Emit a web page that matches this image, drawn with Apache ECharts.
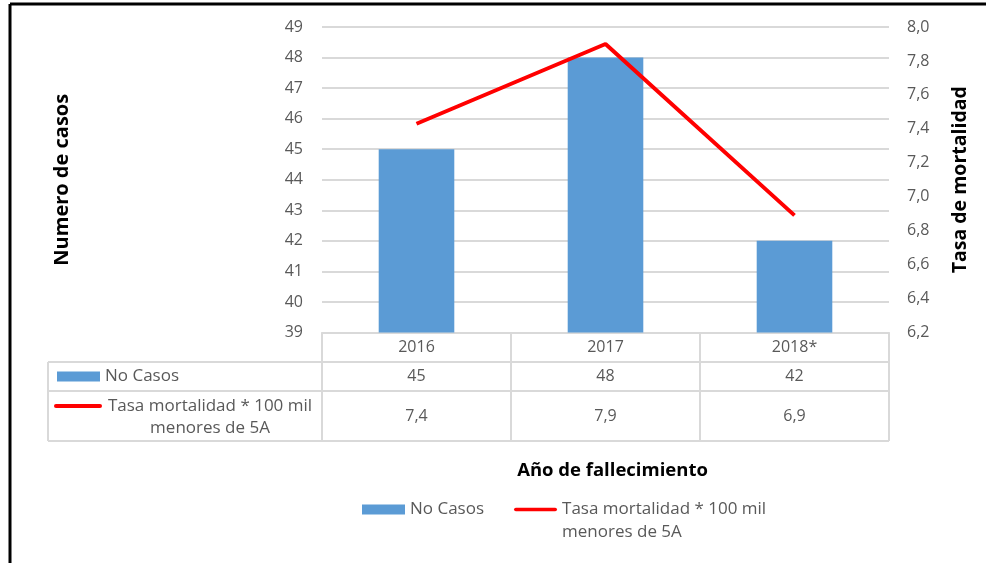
<!DOCTYPE html>
<html lang="es">
<head>
    <meta charset="UTF-8">
    <title>Casos y tasa de mortalidad</title>
    <script src="https://cdn.jsdelivr.net/npm/echarts@6/dist/echarts.min.js"></script>
    <style type="text/css">
        html, body { margin: 0; padding: 0; background: #fff; }
        #chart { width: 986px; height: 563px; }
    </style>
</head>
<body>
<div id="chart"></div>
<script type="text/javascript">
    // datos
    var years = ['2016', '2017', '2018*'];
    var casos = [45, 48, 42];
    var tasa = [7.43, 7.9, 6.89];
    var nameCasos = 'No Casos';
    var nameTasa = 'Tasa mortalidad * 100 mil\nmenores de 5A';

    var FONT = 'Open Sans';
    var GRAY = '#595959';
    var LINE = '#d9d9d9';
    var NUM = 16;   // cifras
    var TXT = 17;   // textos

    // caja del grafico
    var gLeft = 322, gRight = 889, gTop = 27, gBottom = 332.5;
    var rows = [362, 391, 441];
    var tableLeft = 48;

    function coma(v, d) {
        return v.toFixed(d).replace('.', ',');
    }

    var chart = echarts.init(document.getElementById('chart'));

    var option = {
        animation: false,
        textStyle: { fontFamily: FONT },
        grid: {
            left: gLeft, right: 986 - gRight, top: gTop, bottom: 563 - gBottom,
            containLabel: false
        },
        legend: {
            left: 362, top: 475, padding: 0,
            itemWidth: 43, itemHeight: 10, itemGap: 30,
            textStyle: { color: GRAY, fontSize: TXT, fontFamily: FONT, lineHeight: 23 },
            data: [
                { name: nameCasos, icon: 'rect' },
                { name: nameTasa, icon: 'path://M2,0L45,0A2,2,0,0,1,45,4L2,4A2,2,0,0,1,2,0Z' }
            ],
            formatter: function (n) {
                // la segunda linea cae bajo el icono
                return n === nameTasa ? '\n' + n : n;
            }
        },
        xAxis: {
            type: 'category',
            data: years,
            boundaryGap: true,
            name: 'Año de fallecimiento',
            nameLocation: 'middle',
            nameGap: 129,
            nameTextStyle: { color: '#000', fontSize: 18.5, fontWeight: 'bold', fontFamily: FONT, padding: [0, 0, 0, 14] },
            axisLine: { show: true, lineStyle: { color: LINE, width: 2 } },
            axisTick: { show: true, interval: 0, length: 441 - gBottom, lineStyle: { color: LINE, width: 2 } },
            axisLabel: { color: GRAY, fontSize: NUM, margin: 7, interval: 0 }
        },
        yAxis: [{
            type: 'value',
            min: 39, max: 49, interval: 1,
            name: 'Numero de casos',
            nameLocation: 'middle',
            nameGap: 250,
            nameRotate: 90,
            nameTextStyle: { color: '#000', fontSize: 20, fontWeight: 'bold', fontFamily: FONT },
            axisLine: { show: false },
            axisTick: { show: false },
            axisLabel: { color: GRAY, fontSize: NUM, margin: 19 },
            splitLine: { lineStyle: { color: LINE, width: 2 } }
        }, {
            type: 'value',
            min: 6.2, max: 8.0, interval: 0.2,
            name: 'Tasa de mortalidad',
            nameLocation: 'middle',
            nameGap: 61,
            nameRotate: 90,
            nameTextStyle: { color: '#000', fontSize: 19.5, fontWeight: 'bold', fontFamily: FONT },
            axisLine: { show: false },
            axisTick: { show: false },
            axisLabel: {
                color: GRAY, fontSize: NUM, margin: 18,
                formatter: function (v) { return coma(v, 1); }
            },
            splitLine: { show: false }
        }],
        series: [{
            name: nameCasos,
            type: 'bar',
            data: casos,
            barWidth: '40%',
            itemStyle: { color: '#5b9bd5' }
        }, {
            name: nameTasa,
            type: 'line',
            yAxisIndex: 1,
            data: tasa,
            symbol: 'none',
            lineStyle: { color: '#ff0000', width: 4 },
            itemStyle: { color: '#ff0000' }
        }]
    };

    chart.setOption(option);

    // tabla de datos bajo el eje
    function drawTable() {
        var els = [];
        rows.forEach(function (y) {
            els.push({ type: 'line', shape: { x1: tableLeft, y1: y, x2: gRight, y2: y },
                style: { stroke: LINE, lineWidth: 2 } });
        });
        els.push({ type: 'line', shape: { x1: tableLeft, y1: rows[0], x2: tableLeft, y2: rows[2] },
            style: { stroke: LINE, lineWidth: 2 } });

        var yCasos = (rows[0] + rows[1]) / 2;
        var yTasa = (rows[1] + rows[2]) / 2;
        var numFont = NUM + 'px "' + FONT + '"';
        var txtFont = TXT + 'px "' + FONT + '"';
        years.forEach(function (yr, i) {
            var x = chart.convertToPixel({ xAxisIndex: 0 }, i);
            els.push({ type: 'text', x: x, y: yCasos,
                style: { text: String(casos[i]), fill: GRAY, font: numFont, align: 'center', verticalAlign: 'middle' } });
            els.push({ type: 'text', x: x, y: yTasa,
                style: { text: coma(tasa[i], 1), fill: GRAY, font: numFont, align: 'center', verticalAlign: 'middle' } });
        });

        // leyenda dentro de la tabla
        els.push({ type: 'rect', shape: { x: 57, y: yCasos - 5, width: 43, height: 10 }, style: { fill: '#5b9bd5' } });
        els.push({ type: 'text', x: 105, y: yCasos,
            style: { text: nameCasos, fill: GRAY, font: txtFont, align: 'left', verticalAlign: 'middle' } });
        els.push({ type: 'line', shape: { x1: 56, y1: 406, x2: 100, y2: 406 },
            style: { stroke: '#ff0000', lineWidth: 4, lineCap: 'round' } });
        els.push({ type: 'text', x: 210, y: 417,
            style: { text: nameTasa, fill: GRAY, font: txtFont, align: 'center', verticalAlign: 'middle', lineHeight: 22 } });

        // marco del recorte
        els.push({ type: 'line', shape: { x1: 10, y1: 4, x2: 986, y2: 4 }, style: { stroke: '#000', lineWidth: 3 } });
        els.push({ type: 'line', shape: { x1: 10, y1: 4, x2: 10, y2: 563 }, style: { stroke: '#000', lineWidth: 3 } });

        chart.setOption({ graphic: { elements: els } });
    }

    drawTable();
</script>
</body>
</html>
